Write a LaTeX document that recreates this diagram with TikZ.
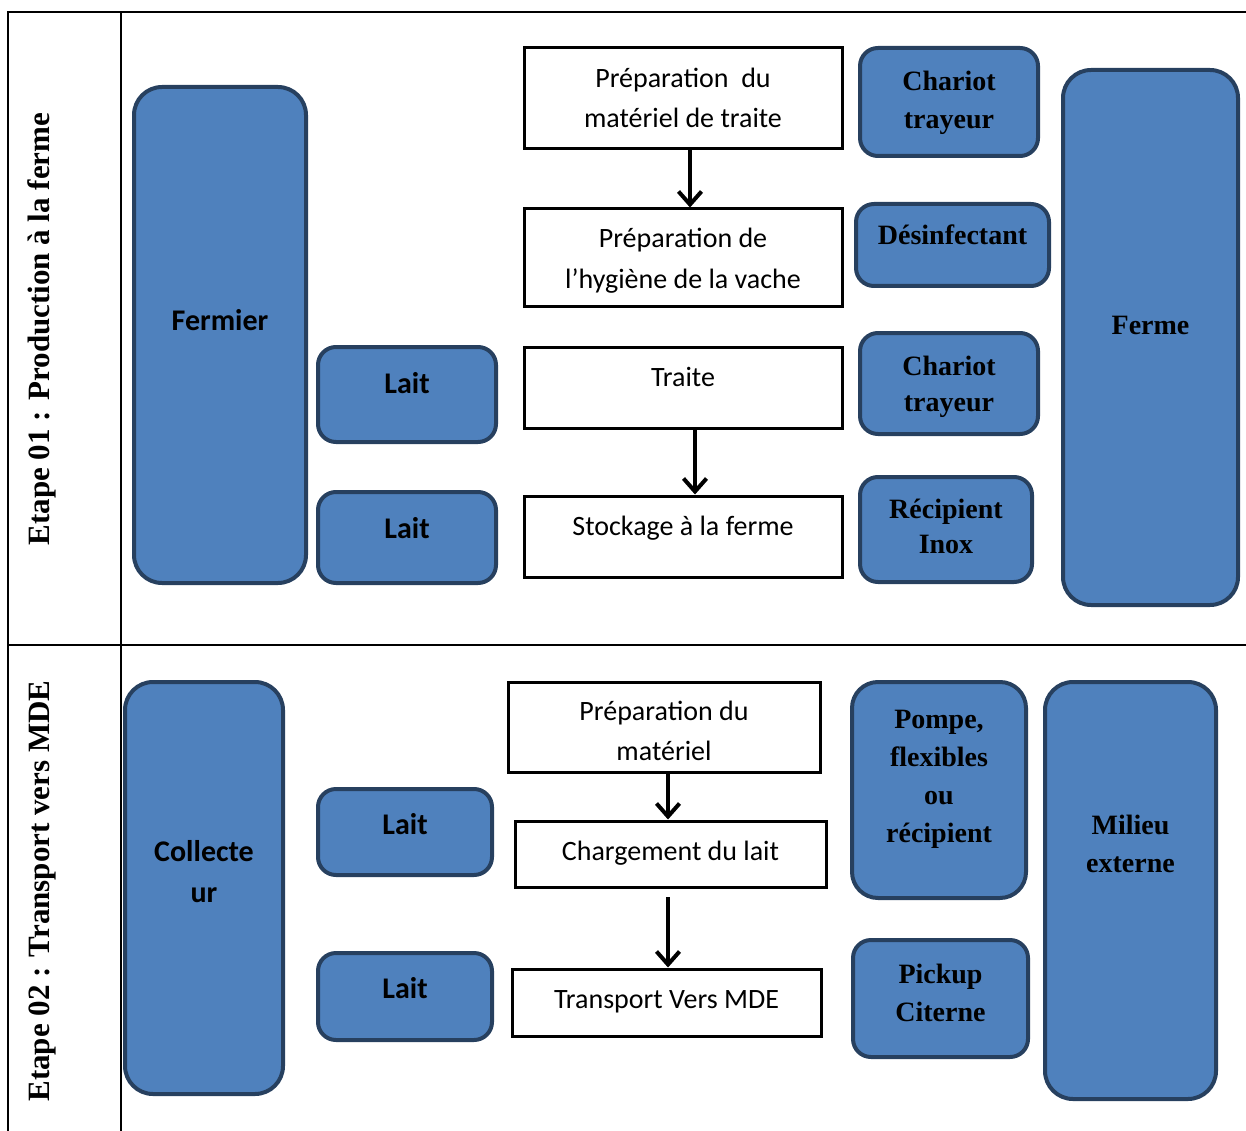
\documentclass[tikz,border=0pt]{standalone}
\usepackage{fontspec}
\setmainfont{Liberation Serif}
\newfontfamily\calibri{Carlito}
\usetikzlibrary{arrows.meta}
\definecolor{boxfill}{HTML}{4F81BD}
\definecolor{boxedge}{HTML}{27405F}
\begin{document}
\begin{tikzpicture}[x=1pt,y=-1pt,
  actor/.style={draw=boxedge, fill=boxfill, line width=4pt, rounded corners=18pt, inner sep=0pt},
  tall/.style={actor, rounded corners=28pt},
  stage/.style={draw=black, fill=white, line width=3pt, inner sep=0pt},
  rule/.style={line width=1.3pt},
  flow/.style={line width=4pt, -{Straight Barb[length=13pt,width=23pt,line width=4pt]}},
  sansb/.style={font=\calibri\bfseries\fontsize{30}{36}\selectfont, anchor=base, inner sep=0pt},
  sans/.style={font=\calibri\fontsize{28}{34}\selectfont, anchor=base, inner sep=0pt},
  serifb/.style={font=\bfseries\fontsize{28}{34}\selectfont, anchor=base, inner sep=0pt},
  stepname/.style={font=\bfseries\fontsize{31}{36}\selectfont, rotate=90, inner sep=0pt}
]
\useasboundingbox (0,0) rectangle (1246,1131);

% table frame
\draw[rule] (8,1131) -- (8,12) -- (1246,12);
\draw[rule] (121,12) -- (121,1131);
\draw[rule] (8,645) -- (1246,645);

% row titles
\node[stepname] (e1) at (42,329) {Etape 01 : Production à la ferme};
\node[stepname] (e2) at (42,891) {Etape 02 : Transport vers MDE};

% ---------- stage 1 ----------
\node[tall, minimum width=172pt, minimum height=496pt] (fermier) at (220,335) {};
\node[actor, minimum width=178pt, minimum height=95pt] (lait1) at (407,394.5) {};
\node[actor, minimum width=178pt, minimum height=91pt] (lait2) at (407,537.5) {};
\node[stage, minimum width=318pt, minimum height=101pt] (prep1) at (683,98.5) {};
\node[stage, minimum width=318pt, minimum height=97pt] (prep2) at (683,257.5) {};
\node[stage, minimum width=318pt, minimum height=81pt] (traite) at (683,387.5) {};
\node[stage, minimum width=318pt, minimum height=81pt] (stock) at (683,536.5) {};
\node[actor, minimum width=178pt, minimum height=108pt] (chariot1) at (949,102) {};
\node[actor, minimum width=193pt, minimum height=82pt] (desinf) at (952.5,245) {};
\node[actor, minimum width=178pt, minimum height=101pt] (chariot2) at (949,383.5) {};
\node[actor, minimum width=172pt, minimum height=105pt] (recip) at (946,529.5) {};
\node[tall, minimum width=175pt, minimum height=535pt] (ferme) at (1150.5,337.5) {};

\node[sansb] (tfermier) at (220,330) {Fermier};
\node[sansb] (tlait1) at (407,393) {Lait};
\node[sansb] (tlait2) at (407,538) {Lait};
\node[sans] (tprep1a) at (683,88) {Préparation\ \ du};
\node[sans] (tprep1b) at (683,128) {matériel de traite};
\node[sans] (tprep2a) at (683,248) {Préparation de};
\node[sans] (tprep2b) at (683,288) {l’hygiène de la vache};
\node[sans] (ttraite) at (683,386) {Traite};
\node[sans] (tstock) at (683,535) {Stockage à la ferme};
\node[serifb] (tchar1a) at (949,91) {Chariot};
\node[serifb] (tchar1b) at (949,129) {trayeur};
\node[serifb] (tdesinf) at (952.5,245) {Désinfectant};
\node[serifb] (tchar2a) at (949,375) {Chariot};
\node[serifb] (tchar2b) at (949,411) {trayeur};
\node[serifb] (trecipa) at (946,518) {Récipient};
\node[serifb] (trecipb) at (946,553) {Inox};
\node[serifb] (tferme) at (1150.5,334) {Ferme};

\coordinate (a1) at (690,0);
\coordinate (a2) at (695,0);
\draw[flow] (prep1.south -| a1) -- (prep2.north -| a1);
\draw[flow] (traite.south -| a2) -- (stock.north -| a2);

% ---------- stage 2 ----------
\node[tall, minimum width=158pt, minimum height=412pt] (collect) at (204,888) {};
\node[actor, minimum width=174pt, minimum height=86pt] (lait3) at (405,832) {};
\node[actor, minimum width=174pt, minimum height=87pt] (lait4) at (405,996.5) {};
\node[stage, minimum width=312pt, minimum height=90pt] (prepm) at (664,727) {};
\node[stage, minimum width=311pt, minimum height=66pt] (charg) at (670.5,854) {};
\node[stage, minimum width=309pt, minimum height=67pt] (transp) at (666.5,1002.5) {};
\node[actor, rounded corners=26pt, minimum width=174pt, minimum height=216pt] (pompe) at (939,790) {};
\node[actor, minimum width=175pt, minimum height=117pt] (pickup) at (940.5,998.5) {};
\node[tall, minimum width=171pt, minimum height=417pt] (milieu) at (1130.5,890.5) {};

\node[sansb] (tcolla) at (204,861) {Collecte};
\node[sansb] (tcollb) at (204,902) {ur};
\node[sansb] (tlait3) at (405,834) {Lait};
\node[sansb] (tlait4) at (405,998) {Lait};
\node[sans] (tprepma) at (664,720) {Préparation du};
\node[sans] (tprepmb) at (664,760) {matériel};
\node[sans] (tcharg) at (670.5,860) {Chargement du lait};
\node[sans] (ttransp) at (666.5,1008) {Transport Vers MDE};
\node[serifb] (tpompa) at (939,728) {Pompe,};
\node[serifb] (tpompb) at (939,766) {flexibles};
\node[serifb] (tpompc) at (939,804) {ou};
\node[serifb] (tpompd) at (939,842) {récipient};
\node[serifb] (tpicka) at (940.5,983) {Pickup};
\node[serifb] (tpickb) at (940.5,1021) {Citerne};
\node[serifb] (tmila) at (1130.5,834) {Milieu};
\node[serifb] (tmilb) at (1130.5,872) {externe};

\coordinate (a3) at (668,0);
\coordinate (a4) at (668,897);
\draw[flow] (prepm.south -| a3) -- (charg.north -| a3);
\draw[flow] (a4) -- (transp.north -| a4);
\end{tikzpicture}
\end{document}
